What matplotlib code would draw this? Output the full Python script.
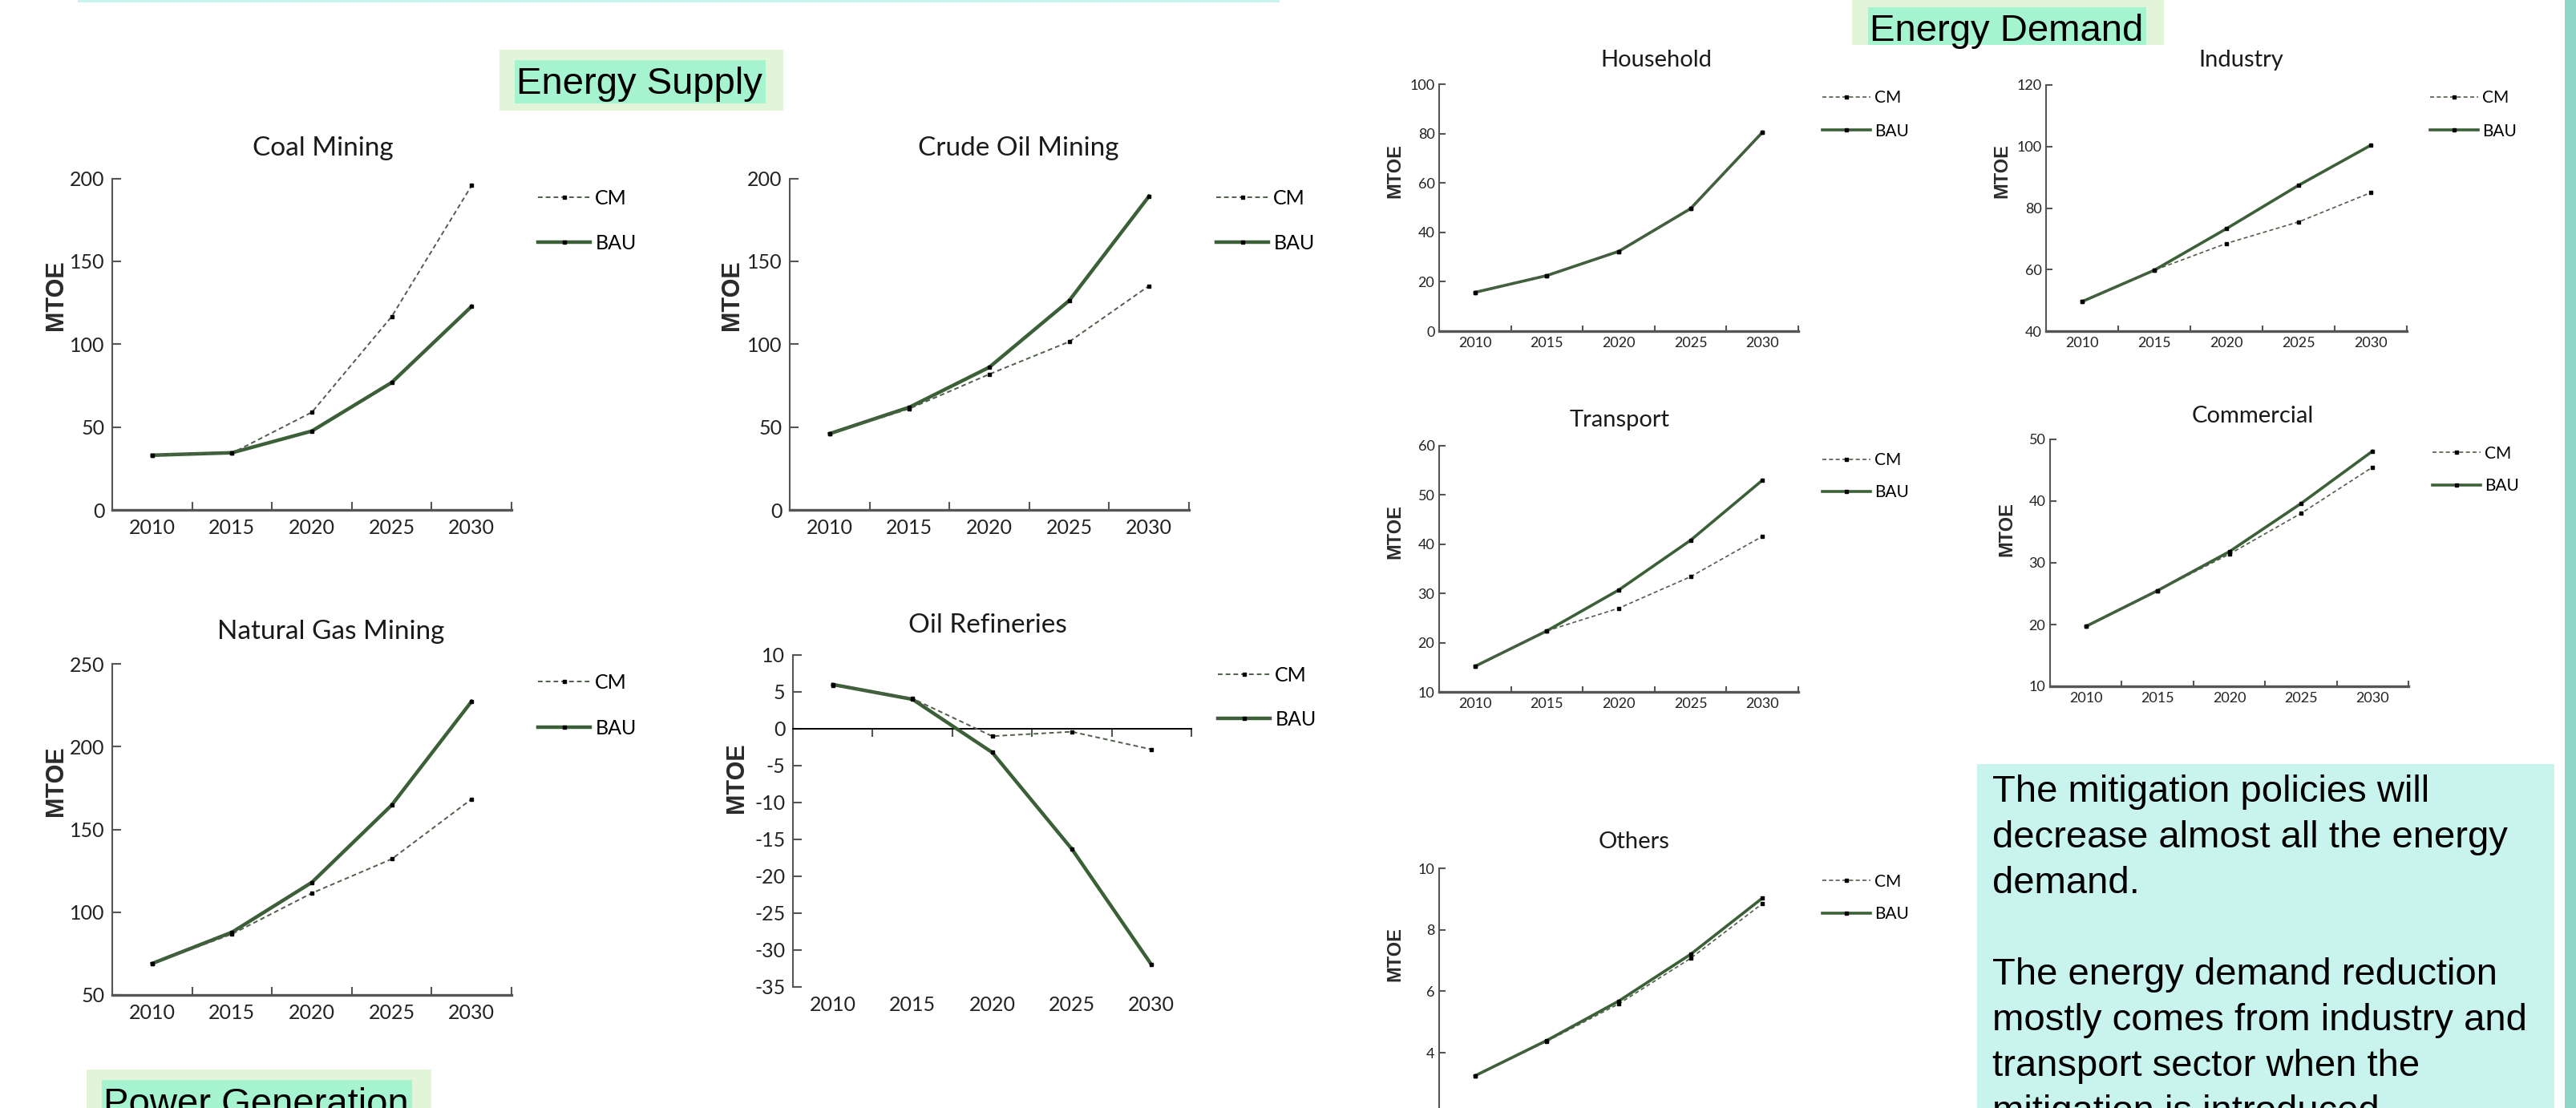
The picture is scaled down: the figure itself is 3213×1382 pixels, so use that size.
import matplotlib.pyplot as plt
from matplotlib.patches import Rectangle

W, H = 3213, 1382

years = ["2010", "2015", "2020", "2025", "2030"]

coal_cm = [33.0, 34.3, 58.9, 116.7, 195.7]
coal_bau = [33.0, 34.5, 47.6, 76.9, 122.8]
crude_cm = [45.9, 61.1, 81.9, 101.5, 135.2]
crude_bau = [46.0, 62.0, 86.1, 126.3, 189.3]
gas_cm = [68.9, 86.8, 111.5, 132.1, 168.3]
gas_bau = [69.0, 87.9, 118.0, 164.7, 227.3]
refinery_cm = [5.9, 4.1, -1.0, -0.4, -2.8]
refinery_bau = [6.0, 4.0, -3.2, -16.3, -32.0]

household_cm = [15.7, 22.5, 32.3, 49.6, 80.5]
household_bau = [15.7, 22.5, 32.3, 49.6, 80.5]
industry_cm = [49.6, 59.8, 68.5, 75.5, 85.0]
industry_bau = [49.6, 59.8, 73.3, 87.4, 100.4]
transport_cm = [15.2, 22.4, 27.0, 33.4, 41.6]
transport_bau = [15.2, 22.4, 30.7, 40.8, 53.0]
commercial_cm = [19.7, 25.5, 31.4, 38.0, 45.5]
commercial_bau = [19.7, 25.5, 31.8, 39.6, 48.1]
others_cm = [3.24, 4.37, 5.59, 7.07, 8.85]
others_bau = [3.25, 4.40, 5.68, 7.20, 9.03]

note_lines = [
    "The mitigation policies will",
    "decrease almost all the energy",
    "demand.",
    "",
    "The energy demand reduction",
    "mostly comes from industry and",
    "transport sector when the",
    "mitigation is introduced.",
]

CHART_FONT = ["Lato", "DejaVu Sans"]
BOX_FONT = ["Liberation Sans", "DejaVu Sans"]
BAU_COLOR = "#3b5f37"
CM_COLOR = "#4f5e4a"
AXIS_COLOR = "#555555"

fig = plt.figure(figsize=(W / 100, H / 100), dpi=100)


def fx(x):
    return x / W


def fy(y):
    return 1 - y / H


def rect(x0, y0, x1, y1, color):
    fig.patches.append(Rectangle((fx(x0), fy(y1)), (x1 - x0) / W, (y1 - y0) / H,
                                 transform=fig.transFigure, color=color, lw=0, zorder=0))


def label_box(outer, inner, text, baseline):
    rect(*outer, "#e2f5d9")
    rect(*inner, "#a6f4cf")
    fig.text(fx(inner[0] + 2), fy(baseline), text, fontsize=34, family=BOX_FONT,
             ha="left", va="baseline")


def panel(box, cm, bau, title, ylim, step, title_xy, ylab_xy, leg, big=True,
          zero=False, xlabels=True):
    l, r, t, b = box
    ax = fig.add_axes([fx(l), fy(b), (r - l) / W, (b - t) / H])
    x = list(range(len(years)))
    ax.plot(x, bau, color=BAU_COLOR, lw=3.2 if big else 2.6, marker="s", ms=3.5,
            mfc="black", mec="black", label="BAU", zorder=3)
    ax.plot(x, cm, color=CM_COLOR, lw=1.4 if big else 1.2, ls=(0, (3, 2)), marker="s",
            ms=3, mfc="black", mec="black", label="CM", zorder=4)
    ax.set_xlim(-0.5, len(years) - 0.5)
    ax.set_ylim(*ylim)
    yt = list(range(ylim[0], ylim[1] + 1, step))
    if not xlabels:
        yt = yt[1:]
    ax.set_yticks(yt)
    ax.set_yticklabels([str(v) for v in yt])
    ax.set_xticks(x)
    ax.set_xticklabels(years)
    ax.set_xticks([v - 0.5 for v in range(len(years) + 1)], minor=True)
    for s in ["top", "right"]:
        ax.spines[s].set_visible(False)
    ax.spines["left"].set_color(AXIS_COLOR)
    ax.spines["bottom"].set_color(AXIS_COLOR)
    ax.spines["left"].set_linewidth(1.5)
    ax.spines["bottom"].set_linewidth(2.4 if not zero else 1.4)
    ax.patch.set_alpha(0)

    tick_fs = 18 if big else 13
    ax.tick_params(axis="y", direction="in", length=8 if big else 6, width=1.5,
                   color=AXIS_COLOR, labelsize=tick_fs, pad=7 if big else 4)
    ax.tick_params(axis="x", which="major", length=0, labelsize=tick_fs,
                   pad=8 if big else 5, labelbottom=xlabels)
    ax.tick_params(axis="x", which="minor", direction="in", length=7 if big else 5,
                   width=1.5, color=AXIS_COLOR)
    for lab in ax.get_xticklabels() + ax.get_yticklabels():
        lab.set_family(CHART_FONT)
        lab.set_color("#222222")

    if zero:
        ax.spines["bottom"].set_position(("data", 0))
        ax.spines["bottom"].set_color("black")
        ax.tick_params(axis="x", which="minor", direction="out", length=7)
        ax.tick_params(axis="x", which="major", labelbottom=False)
        sec = ax.secondary_xaxis("bottom")
        sec.set_xticks(x)
        sec.set_xticklabels(years, family=CHART_FONT, color="#222222")
        sec.tick_params(length=0, labelsize=tick_fs, pad=8)
        sec.spines["bottom"].set_visible(False)

    fig.text(fx(title_xy[0]), fy(title_xy[1]), title, fontsize=24 if big else 21,
             family=CHART_FONT, ha="center", va="baseline", color="#1a1a1a")
    fig.text(fx(ylab_xy[0]), fy(ylab_xy[1]), "MTOE", fontsize=22 if big else 17,
             family=BOX_FONT, weight="bold", rotation=90, ha="center", va="center",
             color="#2a2a2a")

    lx, ycm, ybau = leg
    leg_fs = 18 if big else 15
    fs_px = leg_fs * 100 / 72
    handles, labels = ax.get_legend_handles_labels()
    ax.legend(handles[::-1], labels[::-1], loc="center left",
              bbox_to_anchor=(fx(lx), fy((ycm + ybau) / 2)), bbox_transform=fig.transFigure,
              frameon=False, borderpad=0, borderaxespad=0, handletextpad=0.25,
              handlelength=(65 if big else 60) / fs_px,
              labelspacing=(ybau - ycm - 1.2 * fs_px) / fs_px,
              prop={"family": CHART_FONT, "size": leg_fs})
    return ax


# decorations of the poster
rect(97, 0, 1596, 3, "#c9f4ee")
rect(3199, 0, 3213, H, "#8fd6ca")
rect(2466, 953, 3186, H, "#c9f4ee")

label_box((623, 62, 977, 138), (642, 75, 955, 129), "Energy Supply", 117)
label_box((2310, 0, 2699, 56), (2330, 9, 2677, 56), "Energy Demand", 51)
label_box((108, 1334, 538, H + 20), (127, 1347, 514, H + 20), "Power Generation", 1390)

# energy supply
panel((140, 638, 222.6, 636), coal_cm, coal_bau, "Coal Mining", (0, 200), 50,
      (403, 194), (70, 368), (671, 244, 307))
panel((985, 1483, 222.6, 636), crude_cm, crude_bau, "Crude Oil Mining", (0, 200), 50,
      (1270, 194), (913, 368), (1517, 244, 307))
panel((140, 638, 828, 1241), gas_cm, gas_bau, "Natural Gas Mining", (50, 250), 50,
      (413, 797), (70, 974), (671, 848, 912))
panel((989, 1486, 817, 1231), refinery_cm, refinery_bau, "Oil Refineries", (-35, 10), 5,
      (1232, 789), (919, 970), (1519, 839, 901), zero=True)

# energy demand
panel((1795, 2243, 105, 413), household_cm, household_bau, "Household", (0, 100), 20,
      (2066, 83), (1740, 213), (2273, 120, 166), big=False)
panel((2552, 3002, 106, 413), industry_cm, industry_bau, "Industry", (40, 120), 20,
      (2795, 83), (2497, 213), (3031, 120, 166), big=False)
panel((1795, 2243, 556, 863), transport_cm, transport_bau, "Transport", (10, 60), 10,
      (2020, 532), (1740, 663), (2273, 572, 617), big=False)
panel((2557, 3004, 548, 856), commercial_cm, commercial_bau, "Commercial", (10, 50), 10,
      (2810, 527), (2503, 660), (3034, 563, 609), big=False)
panel((1795, 2243, 1083, 1389.7), others_cm, others_bau, "Others", (2, 10), 2,
      (2038, 1058), (1740, 1190), (2273, 1097, 1143), big=False, xlabels=False)

for i, line in enumerate(note_lines):
    fig.text(fx(2485), fy(1000 + 57 * i), line, fontsize=34, family=BOX_FONT,
             ha="left", va="baseline")

fig.savefig("out.png", dpi=100)
